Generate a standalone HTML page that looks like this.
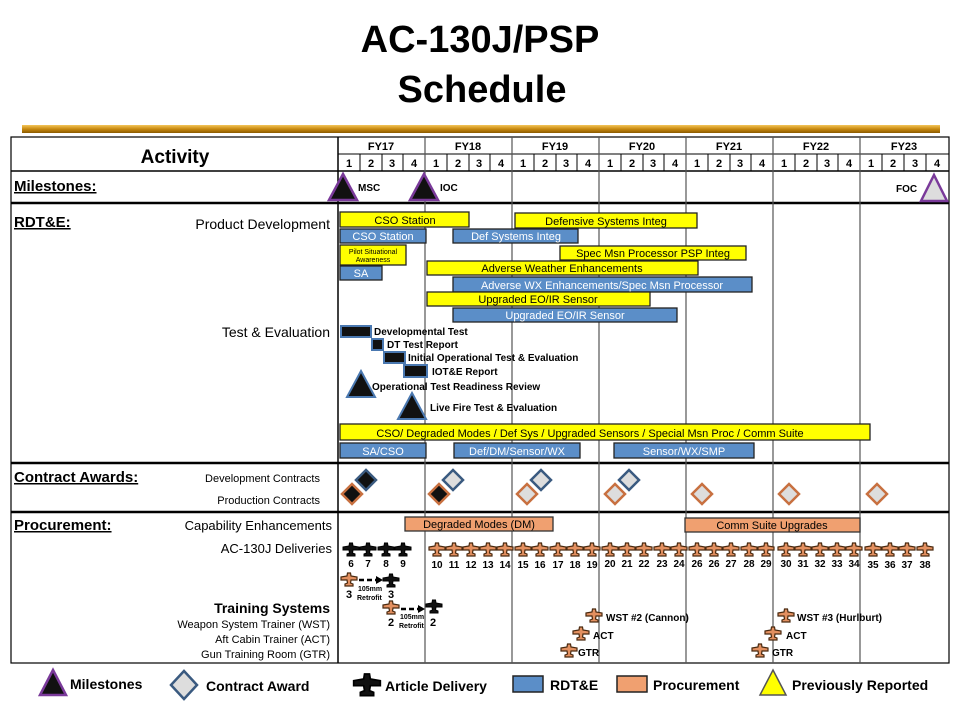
<!DOCTYPE html>
<html><head><meta charset="utf-8"><style>
html,body{margin:0;padding:0;background:#fff}
svg{display:block;font-family:"Liberation Sans",Arial,sans-serif}
</style></head><body>
<svg width="960" height="720" viewBox="0 0 960 720" xmlns="http://www.w3.org/2000/svg">
<defs>
<linearGradient id="gold" x1="0" y1="0" x2="0" y2="1"><stop offset="0" stop-color="#f3c55a"/><stop offset="0.5" stop-color="#c98a10"/><stop offset="1" stop-color="#8a5a00"/></linearGradient>
<symbol id="po" viewBox="-9 -8 18 16" overflow="visible"><path d="M-8,-2 L-2,-3 L-1.5,-6 L1.5,-6 L2,-3 L8,-2 L8,1 L2,1 L1.5,4 L4,5 L4,7 L-4,7 L-4,5 L-1.5,4 L-2,1 L-8,1Z" fill="#e39060" stroke="#4a2a10" stroke-width="1.2"/></symbol>
<symbol id="pb" viewBox="-9 -8 18 16" overflow="visible"><path d="M-8,-2 L-2,-3 L-1.5,-6 L1.5,-6 L2,-3 L8,-2 L8,1 L2,1 L1.5,4 L4,5 L4,7 L-4,7 L-4,5 L-1.5,4 L-2,1 L-8,1Z" fill="#111" stroke="#000" stroke-width="1"/></symbol>
</defs>

<text x="480" y="52" text-anchor="middle" font-size="38" font-weight="bold">AC-130J/PSP</text>
<text x="482" y="102" text-anchor="middle" font-size="38" font-weight="bold">Schedule</text>
<rect x="22" y="125" width="918" height="8" fill="url(#gold)"/>

<!-- table frame -->
<g stroke="#000" fill="none">
<rect x="11" y="137" width="938" height="526" stroke-width="1.2"/>
<line x1="338" y1="137" x2="338" y2="663" stroke-width="1.5"/>
<line x1="338" y1="154" x2="949" y2="154"/>
<line x1="11" y1="171" x2="949" y2="171" stroke-width="1.5"/>
<line x1="11" y1="203" x2="949" y2="203" stroke-width="2.5"/>
<line x1="11" y1="463" x2="949" y2="463" stroke-width="2.5"/>
<line x1="11" y1="512" x2="949" y2="512" stroke-width="2.5"/>
</g>
<g stroke="#555" stroke-width="1.2">
<line x1="425" y1="137" x2="425" y2="663"/><line x1="512" y1="137" x2="512" y2="663"/>
<line x1="599" y1="137" x2="599" y2="663"/><line x1="686" y1="137" x2="686" y2="663"/>
<line x1="773" y1="137" x2="773" y2="663"/><line x1="860" y1="137" x2="860" y2="663"/>
</g>
<g stroke="#000" stroke-width="1">
<line x1="360" y1="154" x2="360" y2="171"/><line x1="382" y1="154" x2="382" y2="171"/><line x1="403" y1="154" x2="403" y2="171"/>
<line x1="447" y1="154" x2="447" y2="171"/><line x1="469" y1="154" x2="469" y2="171"/><line x1="490" y1="154" x2="490" y2="171"/>
<line x1="534" y1="154" x2="534" y2="171"/><line x1="556" y1="154" x2="556" y2="171"/><line x1="577" y1="154" x2="577" y2="171"/>
<line x1="621" y1="154" x2="621" y2="171"/><line x1="643" y1="154" x2="643" y2="171"/><line x1="664" y1="154" x2="664" y2="171"/>
<line x1="708" y1="154" x2="708" y2="171"/><line x1="730" y1="154" x2="730" y2="171"/><line x1="751" y1="154" x2="751" y2="171"/>
<line x1="795" y1="154" x2="795" y2="171"/><line x1="817" y1="154" x2="817" y2="171"/><line x1="838" y1="154" x2="838" y2="171"/>
<line x1="882" y1="154" x2="882" y2="171"/><line x1="904" y1="154" x2="904" y2="171"/><line x1="926" y1="154" x2="926" y2="171"/>
</g>
<text x="175" y="163" text-anchor="middle" font-size="19" font-weight="bold">Activity</text>
<g font-size="11" font-weight="bold" text-anchor="middle">
<text x="381" y="150">FY17</text><text x="468" y="150">FY18</text><text x="555" y="150">FY19</text><text x="642" y="150">FY20</text><text x="729" y="150">FY21</text><text x="816" y="150">FY22</text><text x="904" y="150">FY23</text>
</g>
<g font-size="11" font-weight="bold" text-anchor="middle">
<text x="349" y="167">1</text><text x="371" y="167">2</text><text x="392" y="167">3</text><text x="414" y="167">4</text>
<text x="436" y="167">1</text><text x="458" y="167">2</text><text x="479" y="167">3</text><text x="501" y="167">4</text>
<text x="523" y="167">1</text><text x="545" y="167">2</text><text x="566" y="167">3</text><text x="588" y="167">4</text>
<text x="610" y="167">1</text><text x="632" y="167">2</text><text x="653" y="167">3</text><text x="675" y="167">4</text>
<text x="697" y="167">1</text><text x="719" y="167">2</text><text x="740" y="167">3</text><text x="762" y="167">4</text>
<text x="784" y="167">1</text><text x="806" y="167">2</text><text x="827" y="167">3</text><text x="849" y="167">4</text>
<text x="871" y="167">1</text><text x="893" y="167">2</text><text x="915" y="167">3</text><text x="937" y="167">4</text>
</g>

<!-- section labels -->
<g font-size="15" font-weight="bold" text-decoration="underline">
<text x="14" y="191">Milestones:</text>
<text x="14" y="227">RDT&amp;E:</text>
<text x="14" y="482">Contract Awards:</text>
<text x="14" y="530">Procurement:</text>
</g>
<g font-size="14" text-anchor="end">
<text x="330" y="229">Product Development</text>
<text x="330" y="337">Test &amp; Evaluation</text>
</g>
<g font-size="11" text-anchor="end">
<text x="320" y="482">Development Contracts</text>
<text x="320" y="504">Production Contracts</text>
</g>
<g font-size="13" text-anchor="end">
<text x="332" y="530">Capability Enhancements</text>
<text x="332" y="553">AC-130J Deliveries</text>
</g>
<text x="330" y="613" font-size="14" font-weight="bold" text-anchor="end">Training Systems</text>
<g font-size="11" text-anchor="end">
<text x="330" y="628">Weapon System Trainer (WST)</text>
<text x="330" y="643">Aft Cabin Trainer (ACT)</text>
<text x="330" y="658">Gun Training Room (GTR)</text>
</g>

<!-- milestones -->
<polygon points="343,174 357,200 329,200" fill="#111" stroke="#7a3a9a" stroke-width="2.5"/>
<polygon points="424,174 438,200 410,200" fill="#111" stroke="#7a3a9a" stroke-width="2.5"/>
<polygon points="934,175 947,201 921,201" fill="#ddd" stroke="#7a3a9a" stroke-width="2.5"/>
<g font-size="10" font-weight="bold">
<text x="358" y="191">MSC</text><text x="440" y="191">IOC</text><text x="896" y="192">FOC</text>
</g>

<!-- RDT&E bars -->
<g stroke="#222" stroke-width="1.3">
<rect x="340" y="212" width="129" height="15" fill="#ffff00"/>
<rect x="515" y="213" width="182" height="15" fill="#ffff00"/>
<rect x="340" y="229" width="86" height="14" fill="#5b8ec8"/>
<rect x="453" y="229" width="125" height="14" fill="#5b8ec8"/>
<rect x="340" y="245" width="66" height="20" fill="#ffff00"/>
<rect x="560" y="246" width="186" height="14" fill="#ffff00"/>
<rect x="340" y="266" width="42" height="14" fill="#5b8ec8"/>
<rect x="427" y="261" width="271" height="14" fill="#ffff00"/>
<rect x="453" y="277" width="299" height="15" fill="#5b8ec8"/>
<rect x="427" y="292" width="223" height="14" fill="#ffff00"/>
<rect x="453" y="308" width="224" height="14" fill="#5b8ec8"/>
<rect x="340" y="424" width="530" height="16" fill="#ffff00"/>
<rect x="340" y="443" width="86" height="15" fill="#5b8ec8"/>
<rect x="454" y="443" width="126" height="15" fill="#5b8ec8"/>
<rect x="614" y="443" width="140" height="15" fill="#5b8ec8"/>
</g>
<g font-size="11" text-anchor="middle">
<text x="405" y="224">CSO Station</text>
<text x="606" y="225">Defensive Systems Integ</text>
<text x="383" y="240" fill="#fff">CSO Station</text>
<text x="516" y="240" fill="#fff">Def Systems Integ</text>
<text x="653" y="257">Spec Msn Processor PSP Integ</text>
<text x="361" y="277" fill="#fff">SA</text>
<text x="562" y="272">Adverse Weather Enhancements</text>
<text x="602" y="289" fill="#fff">Adverse WX Enhancements/Spec Msn Processor</text>
<text x="538" y="303">Upgraded EO/IR Sensor</text>
<text x="565" y="319" fill="#fff">Upgraded EO/IR Sensor</text>
<text x="590" y="437">CSO/ Degraded Modes / Def Sys / Upgraded Sensors / Special Msn Proc / Comm Suite</text>
<text x="383" y="455" fill="#fff">SA/CSO</text>
<text x="517" y="455" fill="#fff">Def/DM/Sensor/WX</text>
<text x="684" y="455" fill="#fff">Sensor/WX/SMP</text>
</g>
<g font-size="7" text-anchor="middle"><text x="373" y="254">Pilot Situational</text><text x="373" y="262">Awareness</text></g>

<!-- T&E -->
<g fill="#111" stroke="#4a78b0" stroke-width="2">
<rect x="341" y="326" width="30" height="11"/>
<rect x="372" y="339" width="11" height="11"/>
<rect x="384" y="352" width="21" height="11"/>
<rect x="404" y="365" width="23" height="12"/>
<polygon points="361,371 375,397 347,397"/>
<polygon points="412,393 426,419 398,419"/>
</g>
<g font-size="10" font-weight="bold">
<text x="374" y="335">Developmental Test</text>
<text x="387" y="348">DT Test Report</text>
<text x="408" y="361">Initial Operational Test &amp; Evaluation</text>
<text x="432" y="375">IOT&amp;E Report</text>
<text x="372" y="390">Operational Test Readiness Review</text>
<text x="430" y="411">Live Fire Test &amp; Evaluation</text>
</g>

<!-- contract diamonds -->
<g stroke-width="2.5">
<polygon points="366,470 376,480 366,490 356,480" fill="#111" stroke="#3a5a80"/>
<polygon points="352,484 362,494 352,504 342,494" fill="#111" stroke="#c87040"/>
<polygon points="453,470 463,480 453,490 443,480" fill="#ddd" stroke="#3a5a80"/>
<polygon points="439,484 449,494 439,504 429,494" fill="#111" stroke="#c87040"/>
<polygon points="541,470 551,480 541,490 531,480" fill="#ddd" stroke="#3a5a80"/>
<polygon points="527,484 537,494 527,504 517,494" fill="#ddd" stroke="#c87040"/>
<polygon points="629,470 639,480 629,490 619,480" fill="#ddd" stroke="#3a5a80"/>
<polygon points="615,484 625,494 615,504 605,494" fill="#ddd" stroke="#c87040"/>
<polygon points="702,484 712,494 702,504 692,494" fill="#ddd" stroke="#c87040"/>
<polygon points="789,484 799,494 789,504 779,494" fill="#ddd" stroke="#c87040"/>
<polygon points="877,484 887,494 877,504 867,494" fill="#ddd" stroke="#c87040"/>
</g>

<!-- procurement -->
<g stroke="#333" stroke-width="1.3" fill="#f0a070">
<rect x="405" y="517" width="148" height="14"/>
<rect x="685" y="518" width="175" height="14"/>
</g>
<g font-size="11" text-anchor="middle">
<text x="479" y="528">Degraded Modes (DM)</text>
<text x="772" y="529">Comm Suite Upgrades</text>
</g>

<!-- deliveries -->
<g>
<use href="#pb" x="342" y="541" width="18" height="16"/><use href="#pb" x="359" y="541" width="18" height="16"/><use href="#pb" x="377" y="541" width="18" height="16"/><use href="#pb" x="394" y="541" width="18" height="16"/>
<use href="#po" x="428" y="541" width="18" height="16"/><use href="#po" x="445" y="541" width="18" height="16"/><use href="#po" x="462" y="541" width="18" height="16"/><use href="#po" x="479" y="541" width="18" height="16"/><use href="#po" x="496" y="541" width="18" height="16"/>
<use href="#po" x="514" y="541" width="18" height="16"/><use href="#po" x="531" y="541" width="18" height="16"/><use href="#po" x="549" y="541" width="18" height="16"/><use href="#po" x="566" y="541" width="18" height="16"/><use href="#po" x="583" y="541" width="18" height="16"/>
<use href="#po" x="601" y="541" width="18" height="16"/><use href="#po" x="618" y="541" width="18" height="16"/><use href="#po" x="635" y="541" width="18" height="16"/><use href="#po" x="653" y="541" width="18" height="16"/><use href="#po" x="670" y="541" width="18" height="16"/>
<use href="#po" x="688" y="541" width="18" height="16"/><use href="#po" x="705" y="541" width="18" height="16"/><use href="#po" x="722" y="541" width="18" height="16"/><use href="#po" x="740" y="541" width="18" height="16"/><use href="#po" x="757" y="541" width="18" height="16"/>
<use href="#po" x="777" y="541" width="18" height="16"/><use href="#po" x="794" y="541" width="18" height="16"/><use href="#po" x="811" y="541" width="18" height="16"/><use href="#po" x="828" y="541" width="18" height="16"/><use href="#po" x="845" y="541" width="18" height="16"/>
<use href="#po" x="864" y="541" width="18" height="16"/><use href="#po" x="881" y="541" width="18" height="16"/><use href="#po" x="898" y="541" width="18" height="16"/><use href="#po" x="916" y="541" width="18" height="16"/>
</g>
<g font-size="10" font-weight="bold" text-anchor="middle">
<text x="351" y="567">6</text><text x="368" y="567">7</text><text x="386" y="567">8</text><text x="403" y="567">9</text>
<text x="437" y="568">10</text><text x="454" y="568">11</text><text x="471" y="568">12</text><text x="488" y="568">13</text><text x="505" y="568">14</text>
<text x="523" y="568">15</text><text x="540" y="568">16</text><text x="558" y="568">17</text><text x="575" y="568">18</text><text x="592" y="568">19</text>
<text x="610" y="567">20</text><text x="627" y="567">21</text><text x="644" y="567">22</text><text x="662" y="567">23</text><text x="679" y="567">24</text>
<text x="697" y="567">26</text><text x="714" y="567">26</text><text x="731" y="567">27</text><text x="749" y="567">28</text><text x="766" y="567">29</text>
<text x="786" y="567">30</text><text x="803" y="567">31</text><text x="820" y="567">32</text><text x="837" y="567">33</text><text x="854" y="567">34</text>
<text x="873" y="568">35</text><text x="890" y="568">36</text><text x="907" y="568">37</text><text x="925" y="568">38</text>
</g>

<!-- retrofit -->
<use href="#po" x="340" y="571" width="18" height="16"/>
<use href="#pb" x="382" y="572" width="18" height="16"/>
<use href="#po" x="382" y="599" width="18" height="16"/>
<use href="#pb" x="425" y="598" width="18" height="16"/>
<g stroke="#000" stroke-width="2.5" stroke-dasharray="5,3"><line x1="359" y1="580" x2="378" y2="580"/><line x1="401" y1="609" x2="420" y2="609"/></g>
<polygon points="383,580 376,576 376,584" fill="#000"/>
<polygon points="425,609 418,605 418,613" fill="#000"/>
<g font-size="11" font-weight="bold" text-anchor="middle">
<text x="349" y="598">3</text><text x="391" y="598">3</text><text x="391" y="626">2</text><text x="433" y="626">2</text>
</g>
<g font-size="7" font-weight="bold">
<text x="358" y="591">105mm</text><text x="357" y="600">Retrofit</text>
<text x="400" y="619">105mm</text><text x="399" y="628">Retrofit</text>
</g>

<!-- training systems -->
<use href="#po" x="585" y="607" width="18" height="16"/>
<use href="#po" x="572" y="625" width="18" height="16"/>
<use href="#po" x="560" y="642" width="18" height="16"/>
<use href="#po" x="777" y="607" width="18" height="16"/>
<use href="#po" x="764" y="625" width="18" height="16"/>
<use href="#po" x="751" y="642" width="18" height="16"/>
<g font-size="10" font-weight="bold">
<text x="606" y="621">WST #2 (Cannon)</text><text x="593" y="639">ACT</text><text x="578" y="656">GTR</text>
<text x="797" y="621">WST #3 (Hurlburt)</text><text x="786" y="639">ACT</text><text x="772" y="656">GTR</text>
</g>

<!-- legend -->
<polygon points="53,670 66,695 40,695" fill="#111" stroke="#7a3a9a" stroke-width="2.5"/>
<polygon points="184,671 197,685 184,699 171,685" fill="#ddd" stroke="#3a5a80" stroke-width="2.5"/>
<use href="#pb" x="352" y="670" width="30" height="28"/>
<rect x="513" y="676" width="30" height="16" fill="#5b8ec8" stroke="#222" stroke-width="1.5"/>
<rect x="617" y="676" width="30" height="16" fill="#f0a070" stroke="#222" stroke-width="1.5"/>
<polygon points="773,670 786,695 760,695" fill="#ffff00" stroke="#555" stroke-width="1.5"/>
<g font-size="14" font-weight="bold">
<text x="70" y="689">Milestones</text>
<text x="206" y="691">Contract Award</text>
<text x="385" y="691">Article Delivery</text>
<text x="550" y="690">RDT&amp;E</text>
<text x="653" y="690">Procurement</text>
<text x="792" y="690">Previously Reported</text>
</g>
</svg>
</body></html>
